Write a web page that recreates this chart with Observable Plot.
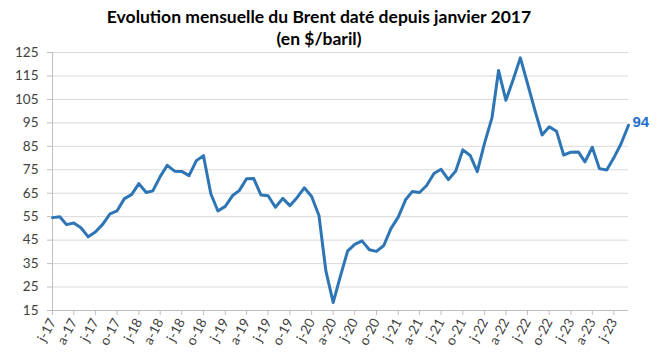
<!DOCTYPE html>
<html><head><meta charset="utf-8">
<script src="https://cdn.jsdelivr.net/npm/d3@7"></script>
<script src="https://cdn.jsdelivr.net/npm/@observablehq/plot@0.6"></script>
<style>
body{margin:0;background:#fff;font-family:Lato,"Open Sans",sans-serif;}
#title{position:relative;z-index:2;width:664px;box-sizing:border-box;padding-right:26px;padding-top:6px;height:42px;text-align:center;font-weight:bold;font-size:17.5px;line-height:22px;color:#000;}
#chart{position:relative;z-index:1;}
</style></head><body>
<div id="title">Evolution mensuelle du Brent daté depuis janvier 2017<br>(en $/baril)</div>
<div id="chart"></div>
<script>
// Brent daté, moyenne mensuelle ($/baril), janvier 2017 -> septembre 2023
const startYear = 2017;
const startMonth = 0;
const brent = [
  54.6, 55.0, 51.6, 52.3, 50.3, 46.4, 48.5, 51.7, 56.2, 57.5, 62.7, 64.4,
  69.1, 65.3, 66.0, 72.1, 76.9, 74.4, 74.3, 72.5, 78.9, 81.0, 64.8, 57.4,
  59.4, 64.0, 66.1, 71.2, 71.3, 64.2, 63.9, 59.0, 62.8, 59.7, 63.2, 67.3,
  63.6, 55.5, 32.0, 18.4, 29.4, 40.3, 43.2, 44.7, 40.9, 40.2, 42.7, 49.9,
  54.8, 62.2, 65.7, 65.3, 68.3, 73.4, 75.2, 70.8, 74.5, 83.5, 81.1, 74.2,
  86.5, 97.1, 117.3, 104.6, 113.3, 122.7, 111.9, 100.5, 89.8, 93.3, 91.4, 81.3,
  82.5, 82.6, 78.4, 84.6, 75.5, 74.9, 80.1, 86.2, 94.0
];
const monthLetters = ["j","f","m","a","m","j","j","a","s","o","n","d"];
const yTicks = [15, 25, 35, 45, 55, 65, 75, 85, 95, 105, 115, 125];
const endLabel = "94";

const data = brent.map((v, i) => ({date: new Date(Date.UTC(startYear, startMonth + i, 1)), value: v}));
const first = data[0].date, last = data[data.length - 1];
const xTicks = d3.utcMonth.every(3).range(first, d3.utcMonth.offset(last.date, 1));
const fmt = d => monthLetters[d.getUTCMonth()] + "-" + String(d.getUTCFullYear()).slice(2);

const blue = "#2e75b6";
const chart = Plot.plot({
  width: 664,
  height: 318,
  marginTop: 10,
  marginLeft: 52,
  marginRight: 36,
  marginBottom: 50,
  style: {fontFamily: "Lato, 'Open Sans', sans-serif", fontSize: "13px", background: "transparent", overflow: "visible"},
  x: {type: "utc", domain: [first, last.date]},
  y: {domain: [15, 125]},
  marks: [
    Plot.gridY(yTicks, {stroke: "#d9d9d9", strokeOpacity: 1}),
    Plot.ruleY([15], {stroke: "#bfbfbf"}),
    Plot.ruleX([first], {stroke: "#bfbfbf"}),
    Plot.axisY({ticks: yTicks, tickSize: 5, tickPadding: 9, stroke: "#bfbfbf", fill: "#404040", label: null, fontSize: 13.5}),
    Plot.axisX({ticks: xTicks, tickFormat: fmt, tickRotate: -62, tickSize: 5, tickPadding: 4, stroke: "#bfbfbf", fill: "#404040", label: null, fontSize: 13.5}),
    Plot.line(data, {x: "date", y: "value", stroke: blue, strokeWidth: 3, strokeLinejoin: "round"}),
    Plot.text([last], {x: "date", y: "value", text: () => endLabel, dx: 4, dy: -3, textAnchor: "start", fill: "#1f6fc8", fontWeight: "bold", fontSize: 15, fontFamily: "'Liberation Sans', Arial, sans-serif"})
  ]
});
document.getElementById("chart").appendChild(chart);
</script>
</body></html>
